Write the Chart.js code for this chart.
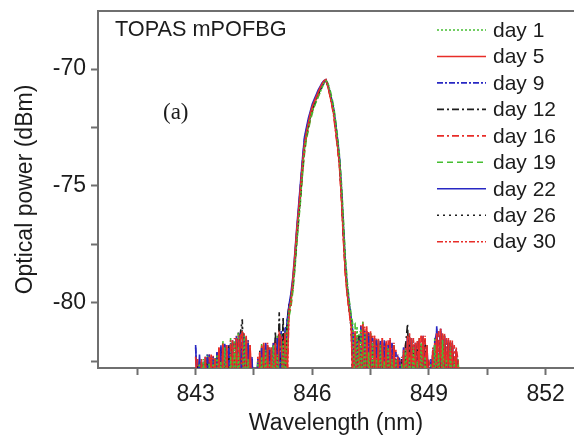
<!DOCTYPE html>
<html>
<head>
<meta charset="utf-8">
<title>TOPAS mPOFBG</title>
<script src="https://cdn.jsdelivr.net/npm/chart.js@4.4.0/dist/chart.umd.min.js"></script>
<style>
  html, body { margin: 0; padding: 0; background: #fff; }
  #spectrum { display: block; }
</style>
</head>
<body>
<canvas id="spectrum" width="574" height="442"></canvas>
<script>
// wavelength samples (nm), 0.05 nm apart, shared by all days
var wavelengths = [
  843.00, 843.05, 843.10, 843.15, 843.20, 843.25, 843.30, 843.35, 843.40, 843.45, 843.50, 843.55, 843.60, 843.65, 843.70, 843.75, 843.80, 843.85, 843.90, 843.95, 844.00, 844.05,
  844.10, 844.15, 844.20, 844.25, 844.30, 844.35, 844.40, 844.45, 844.50, 844.55, 844.60, 844.65, 844.70, 844.75, 844.80, 844.85, 844.90, 844.95, 845.00, 845.05, 845.10, 845.15,
  845.20, 845.25, 845.30, 845.35, 845.40, 845.45, 845.50, 845.55, 845.60, 845.65, 845.70, 845.75, 845.80, 845.85, 845.90, 845.95, 846.00, 846.05, 846.10, 846.15,
  846.20, 846.25, 846.30, 846.35, 846.40, 846.45, 846.50, 846.55, 846.60, 846.65, 846.70, 846.75, 846.80, 846.85, 846.90, 846.95, 847.00, 847.05, 847.10, 847.15, 847.20,
  847.25, 847.30, 847.35, 847.40, 847.45, 847.50, 847.55, 847.60, 847.65, 847.70, 847.75, 847.80, 847.85, 847.90, 847.95, 848.00, 848.05, 848.10, 848.15, 848.20, 848.25, 848.30, 848.35, 848.40, 848.45, 848.50,
  848.55, 848.60, 848.65, 848.70, 848.75, 848.80, 848.85, 848.90, 848.95, 849.00, 849.05, 849.10, 849.15, 849.20, 849.25, 849.30, 849.35, 849.40, 849.45, 849.50, 849.55, 849.60, 849.65, 849.70, 849.75, 849.80
];

// optical power (dBm) per measurement day: left noise, peak, right noise
var day1 = [
  -84.6, -84.2, -82.6, -84.0, -82.4, -83.8, -84.3, -82.6, -83.9, -82.5, -84.1, -82.2, -83.7, -82.5, -84.2, -81.9, -83.6, -84.4, -82.3, -83.9, -81.6, -84.0, -82.2, -83.8, -84.1, -81.4, -83.7, -82.4, -84.0, -84.3, -84.8, -84.6, -82.5, -84.0, -82.3, -83.9, -82.0, -84.2, -82.5, -83.8, -81.8, -84.1, -82.2, -83.9,
  -83.8, -81.6, -83.5, -81.2, -80.4, -80.0, -79.4, -78.5, -77.4, -76.4, -75.5, -74.3, -73.4, -72.9, -72.5, -72.1, -71.8, -71.6, -71.4, -71.2, -71.0, -70.8, -70.6, -70.5, -70.6, -70.9, -71.3, -71.7, -72.3, -73.0, -73.8, -75.0, -76.6, -78.2, -79.2, -80.0, -80.6, -81.2, -83.8, -81.0, -83.6,
  -81.1, -83.9, -81.3, -84.2, -82.1, -83.8, -81.7, -84.0, -82.4, -84.3, -81.8, -83.7, -82.5, -84.1, -81.9, -83.8, -82.4, -84.0, -82.4, -84.3, -84.6, -82.6, -84.0, -82.0, -83.8, -82.3, -84.1, -81.9, -83.9, -82.5, -84.2, -81.7, -83.8, -82.3, -84.0, -84.5, -82.6, -84.1, -81.8, -83.7, -82.2, -84.0, -81.6, -83.9, -82.4, -84.2, -82.0, -83.8, -82.5, -84.3, -82.6, -84.8
];
var day5 = [
  -82.3, -84.1, -84.5, -82.5, -83.9, -82.3, -84.2, -83.8, -82.2, -84.0, -82.4, -83.7, -81.9, -84.1, -81.8, -84.3, -81.9, -83.8, -84.0, -81.6, -84.2, -81.5, -83.9, -81.4, -81.3, -84.1, -81.4, -83.8, -81.8, -84.0, -84.6, -84.4, -84.1, -82.1, -84.0, -81.7, -83.8, -81.8, -84.3, -81.9, -83.9, -81.7, -84.2, -81.3,
  -81.5, -83.7, -81.3, -83.5, -80.3, -79.9, -79.0, -78.0, -76.9, -76.0, -75.0, -74.0, -73.2, -72.7, -72.3, -71.9, -71.6, -71.4, -71.2, -71.0, -70.8, -70.65, -70.5, -70.45, -70.75, -71.1, -71.5, -71.9, -72.6, -73.3, -74.1, -75.5, -77.2, -78.7, -79.6, -80.3, -81.0, -83.8, -81.2, -83.9, -81.6,
  -83.8, -80.9, -84.0, -81.1, -83.7, -81.3, -84.1, -81.4, -83.9, -81.6, -84.2, -81.5, -83.8, -81.7, -84.0, -81.6, -83.9, -81.8, -84.1, -82.3, -84.4, -84.2, -82.0, -83.9, -81.4, -84.1, -81.5, -83.8, -81.7, -84.0, -81.5, -83.7, -81.4, -84.1, -81.8, -84.6, -84.2, -82.0, -83.8, -81.3, -84.0, -81.1, -83.9, -81.4, -84.1, -81.6, -83.7, -81.7, -84.0, -82.0, -84.3, -84.9
];
var day9 = [
  -81.9, -83.8, -82.4, -84.2, -82.5, -84.0, -82.2, -83.9, -84.3, -82.3, -83.8, -82.1, -84.0, -81.8, -83.7, -81.7, -84.1, -81.8, -83.9, -81.6, -84.2, -81.4, -83.8, -81.3, -84.0, -81.5, -83.9, -81.6, -84.2, -82.3, -84.7, -84.5, -82.4, -83.9, -81.9, -84.1, -81.7, -83.8, -82.0, -84.0, -81.7, -83.9, -81.5, -84.1,
  -81.2, -84.0, -81.1, -80.9, -80.2, -79.7, -79.1, -78.2, -77.0, -76.0, -74.9, -73.9, -73.0, -72.6, -72.2, -71.9, -71.6, -71.4, -71.2, -71.0, -70.85, -70.7, -70.55, -70.5, -70.7, -71.0, -71.4, -71.8, -72.4, -73.1, -73.9, -75.2, -76.9, -78.4, -79.4, -80.1, -80.7, -81.3, -84.0, -81.5, -83.7,
  -81.0, -84.0, -81.2, -83.8, -81.3, -84.1, -81.5, -83.9, -81.6, -84.2, -81.6, -83.8, -81.6, -84.0, -81.8, -83.9, -81.7, -84.1, -82.1, -84.4, -82.5, -84.3, -81.9, -84.0, -81.5, -83.8, -81.6, -84.2, -81.8, -83.9, -81.6, -84.0, -81.5, -83.8, -81.9, -84.4, -82.4, -84.0, -81.6, -81.3, -83.9, -81.2, -84.1, -81.5, -83.8, -81.7, -84.0, -81.8, -83.9, -82.1, -84.6, -85.0
];
var day12 = [
  -84.4, -82.7, -84.1, -82.6, -83.9, -84.2, -82.4, -84.0, -82.3, -83.8, -84.1, -82.2, -83.9, -82.0, -84.2, -81.9, -83.8, -81.8, -84.0, -81.7, -83.7, -81.5, -84.1, -81.3, -80.7, -83.9, -81.6, -84.0, -82.0, -84.4, -84.9, -84.5, -84.0, -82.3, -83.8, -81.9, -84.1, -81.8, -83.9, -82.0, -84.2, -81.2, -83.8, -80.4,
  -83.6, -80.6, -83.8, -80.9, -80.1, -79.8, -79.2, -78.3, -77.2, -76.3, -75.3, -74.2, -73.3, -72.8, -72.4, -72.0, -71.7, -71.5, -71.3, -71.1, -70.9, -70.75, -70.6, -70.5, -70.7, -71.0, -71.4, -71.8, -72.5, -73.2, -74.0, -75.3, -77.0, -78.5, -79.5, -80.2, -80.8, -84.0, -81.3, -83.8, -81.4,
  -83.7, -81.0, -83.9, -81.3, -84.1, -81.4, -83.8, -81.6, -84.0, -81.7, -83.9, -81.8, -84.2, -81.7, -83.8, -81.9, -84.0, -81.9, -84.3, -82.4, -84.6, -82.5, -84.1, -81.8, -80.9, -83.9, -81.7, -84.0, -81.8, -83.8, -81.7, -84.1, -81.6, -83.9, -82.0, -84.5, -84.3, -82.1, -83.8, -81.5, -84.0, -81.4, -83.9, -81.6, -84.1, -81.7, -83.8, -81.9, -84.0, -82.2, -84.5, -84.9
];
var day16 = [
  -84.5, -82.4, -84.0, -82.5, -84.2, -82.4, -83.8, -82.3, -84.1, -82.2, -84.0, -83.9, -81.9, -84.2, -81.7, -83.9, -81.8, -84.1, -81.6, -83.8, -81.5, -84.0, -81.4, -83.7, -81.2, -84.1, -81.5, -83.9, -81.8, -84.3, -84.7, -84.4, -82.3, -84.1, -81.8, -83.9, -81.7, -84.0, -81.9, -83.8, -81.7, -84.2, -81.5, -83.8,
  -83.9, -81.4, -83.6, -81.0, -80.5, -80.1, -79.3, -78.4, -77.3, -76.3, -75.4, -74.4, -73.5, -72.9, -72.5, -72.1, -71.8, -71.5, -71.3, -71.1, -70.9, -70.7, -70.55, -70.5, -70.75, -71.1, -71.5, -72.0, -72.7, -73.4, -74.2, -75.6, -77.3, -78.8, -79.7, -80.4, -81.0, -81.3, -83.7, -81.6, -84.0,
  -80.9, -83.8, -81.0, -84.0, -81.2, -83.7, -81.4, -84.1, -81.5, -83.9, -81.6, -84.0, -81.7, -83.8, -81.6, -84.2, -81.7, -83.9, -82.0, -84.3, -82.4, -84.5, -84.1, -81.8, -83.9, -81.3, -84.0, -81.6, -83.8, -81.7, -84.1, -81.4, -83.9, -81.5, -84.0, -82.5, -84.4, -83.9, -81.6, -84.1, -81.2, -83.8, -81.3, -84.0, -81.5, -83.9, -81.6, -84.2, -81.8, -83.8, -82.4, -84.7
];
var day19 = [
  -84.3, -84.0, -82.5, -83.8, -82.6, -84.1, -82.2, -83.9, -82.5, -84.2, -82.3, -83.8, -82.4, -84.0, -81.6, -83.7, -82.3, -84.1, -81.5, -83.9, -82.2, -84.0, -81.3, -83.8, -82.1, -84.2, -81.4, -83.9, -82.2, -84.1, -84.6, -84.8, -82.6, -83.8, -81.7, -84.0, -82.4, -83.9, -81.9, -84.1, -82.3, -83.7, -81.4, -84.0,
  -81.3, -83.8, -81.4, -81.0, -80.6, -80.2, -79.5, -78.6, -77.5, -76.5, -75.6, -74.5, -73.6, -73.0, -72.6, -72.2, -71.9, -71.6, -71.4, -71.2, -71.0, -70.8, -70.6, -70.5, -70.6, -70.85, -71.2, -71.6, -72.2, -72.9, -73.7, -74.9, -76.4, -78.0, -79.1, -79.9, -80.5, -81.0, -80.9, -83.8, -81.3,
  -84.0, -80.8, -83.8, -81.8, -84.1, -81.3, -83.9, -82.1, -84.0, -81.6, -83.7, -82.2, -84.1, -81.8, -83.9, -82.3, -84.2, -81.8, -83.8, -82.5, -84.5, -84.3, -82.0, -84.0, -82.2, -83.9, -81.6, -84.1, -82.3, -83.8, -81.5, -84.0, -82.1, -83.9, -81.8, -84.7, -82.6, -84.0, -81.5, -83.8, -81.9, -84.1, -81.3, -83.9, -82.2, -84.0, -81.6, -83.8, -82.4, -84.2, -82.4, -84.8
];
var day22 = [
  -81.8, -84.1, -82.2, -83.9, -84.2, -82.3, -84.0, -82.2, -83.8, -82.4, -84.1, -82.1, -83.9, -81.9, -84.0, -81.8, -83.8, -81.9, -84.2, -81.7, -83.9, -81.5, -84.0, -81.4, -83.7, -81.4, -84.1, -81.7, -83.9, -82.4, -84.8, -84.3, -82.5, -84.0, -81.9, -83.8, -81.8, -84.1, -81.9, -83.9, -81.8, -84.0, -81.6, -81.4,
  -83.9, -81.5, -83.7, -80.8, -80.1, -79.6, -78.9, -77.9, -76.8, -75.8, -74.8, -73.8, -72.9, -72.5, -72.1, -71.8, -71.5, -71.3, -71.1, -70.9, -70.75, -70.6, -70.5, -70.45, -70.65, -70.95, -71.3, -71.7, -72.3, -73.0, -73.8, -75.1, -76.7, -78.3, -79.3, -80.0, -80.7, -81.4, -83.9, -84.1, -81.8,
  -83.9, -81.1, -84.0, -81.2, -83.8, -81.4, -84.1, -81.5, -83.9, -81.7, -84.0, -81.6, -83.8, -81.7, -84.2, -81.6, -83.9, -81.9, -84.0, -82.3, -82.4, -84.4, -81.9, -83.8, -81.4, -84.0, -81.5, -83.9, -81.7, -84.1, -81.6, -83.8, -81.4, -84.0, -81.8, -84.5, -84.2, -82.0, -83.9, -81.0, -83.8, -81.1, -84.0, -81.4, -83.9, -81.6, -84.1, -81.7, -83.8, -82.0, -84.4, -85.0
];
var day26 = [
  -84.2, -83.8, -82.6, -84.1, -82.7, -83.9, -82.3, -84.2, -82.6, -83.8, -82.3, -84.0, -82.5, -83.9, -81.8, -84.1, -82.4, -83.7, -81.7, -84.0, -82.1, -83.8, -81.2, -84.1, -81.0, -83.9, -82.2, -84.2, -81.9, -84.4, -84.7, -84.9, -84.2, -82.0, -83.9, -82.4, -84.0, -81.9, -83.8, -82.3, -84.1, -81.6, -83.9, -80.8,
  -84.0, -81.0, -83.8, -81.2, -80.3, -79.9, -79.3, -78.4, -77.3, -76.3, -75.3, -74.3, -73.4, -72.9, -72.5, -72.1, -71.8, -71.6, -71.3, -71.1, -70.9, -70.7, -70.55, -70.5, -70.7, -71.0, -71.4, -71.9, -72.5, -73.2, -74.1, -75.4, -77.1, -78.6, -79.5, -80.3, -81.1, -83.9, -81.5, -84.0, -81.3,
  -81.2, -84.1, -81.6, -83.8, -81.3, -84.0, -82.0, -83.9, -81.6, -84.1, -82.2, -83.8, -81.8, -84.0, -82.3, -83.9, -81.8, -84.2, -82.5, -84.4, -84.6, -82.4, -83.9, -82.2, -84.1, -81.4, -83.8, -82.1, -84.0, -81.7, -83.9, -82.2, -84.1, -81.6, -83.8, -84.6, -82.6, -84.1, -81.7, -83.9, -82.0, -84.0, -81.4, -83.8, -82.2, -84.1, -81.7, -83.9, -82.3, -84.0, -84.5, -84.9
];
var day30 = [
  -84.1, -82.5, -84.3, -82.4, -83.9, -82.5, -84.1, -82.2, -83.8, -82.3, -84.0, -82.1, -84.2, -81.9, -83.8, -81.8, -84.0, -81.8, -83.9, -81.6, -84.1, -81.4, -83.7, -81.3, -84.0, -81.3, -83.8, -81.6, -84.1, -82.4, -84.8, -84.6, -84.0, -82.2, -83.8, -81.8, -84.1, -81.7, -83.9, -81.9, -84.0, -81.6, -83.8, -81.3,
  -81.4, -83.9, -81.2, -84.0, -80.4, -80.0, -79.3, -78.4, -77.2, -76.2, -75.2, -74.2, -73.3, -72.8, -72.4, -72.0, -71.7, -71.5, -71.3, -71.1, -70.9, -70.7, -70.55, -70.45, -70.7, -71.05, -71.45, -71.85, -72.55, -73.25, -74.05, -75.4, -77.1, -78.6, -79.6, -80.3, -80.9, -81.4, -83.8, -81.4, -84.0,
  -83.8, -80.8, -84.0, -81.0, -83.9, -81.2, -84.1, -81.4, -83.8, -81.5, -84.0, -81.5, -83.9, -81.6, -84.1, -81.5, -83.8, -81.7, -84.0, -82.2, -84.3, -82.3, -84.0, -81.7, -83.9, -81.3, -84.1, -81.5, -83.8, -81.6, -84.0, -81.4, -83.9, -81.4, -84.1, -82.4, -84.5, -81.9, -84.0, -81.2, -83.8, -81.1, -84.0, -81.3, -83.9, -81.5, -84.1, -81.6, -83.8, -81.9, -82.5, -84.8
];

var dayLabels = ['day 1', 'day 5', 'day 9', 'day 12', 'day 16', 'day 19', 'day 22', 'day 26', 'day 30'];
var dayValues = [day1, day5, day9, day12, day16, day19, day22, day26, day30];

var xTickValues = [841.5, 843, 844.5, 846, 847.5, 849, 850.5, 852];
var xTickLabels = ['', '843', '', '846', '', '849', '', '852'];
var yTickValues = [-82.5, -80, -77.5, -75, -72.5, -70];
var yTickLabels = ['', '-80', '', '-75', '', '-70'];

// line styles, same order as the days
var GREEN = 'rgb(70,190,50)', RED = 'rgb(232,45,40)', BLUE = 'rgb(40,40,195)', BLACK = 'rgb(30,30,30)';
var lineStyles = [
  { color: GREEN, dash: [2, 2] },
  { color: RED,   dash: [] },
  { color: BLUE,  dash: [6, 2, 2, 2] },
  { color: BLACK, dash: [7, 3, 2, 3] },
  { color: RED,   dash: [7, 3, 2, 3] },
  { color: GREEN, dash: [6, 4] },
  { color: BLUE,  dash: [] },
  { color: BLACK, dash: [2, 4] },
  { color: RED,   dash: [6, 2, 2, 2, 2, 2] }
];

var SANS = "'Liberation Sans', Arial, sans-serif";
var TEXT = '#1c1c1c';
var AXIS = '#6f6f6f';

var datasets = dayLabels.map(function(label, i){
  return {
    label: label,
    data: wavelengths.map(function(w, j){ return { x: w, y: dayValues[i][j] }; }),
    borderColor: lineStyles[i].color,
    borderDash: lineStyles[i].dash,
    borderWidth: 1.6,
    pointRadius: 0,
    tension: 0,
    fill: false
  };
});

// legend, sample name and "(a)" drawn inside the frame
var framePlugin = {
  id: 'frame',
  afterDraw: function(chart){
    var ctx = chart.ctx;
    var area = chart.chartArea;
    ctx.save();
    // top border runs out to the right edge
    ctx.strokeStyle = AXIS;
    ctx.lineWidth = 2;
    ctx.beginPath();
    ctx.moveTo(area.left - 1, area.top);
    ctx.lineTo(chart.width, area.top);
    ctx.stroke();

    ctx.fillStyle = TEXT;
    ctx.textBaseline = 'alphabetic';
    ctx.font = '21.7px ' + SANS;
    ctx.fillText('TOPAS mPOFBG', 115, 36);
    ctx.font = "23px 'Liberation Serif', 'Times New Roman', serif";
    ctx.fillText('(a)', 163, 119);

    ctx.font = '21px ' + SANS;
    ctx.textBaseline = 'middle';
    chart.data.datasets.forEach(function(ds, i){
      var y = 30 + i * 26.46;
      ctx.strokeStyle = ds.borderColor;
      ctx.lineWidth = 1.6;
      ctx.setLineDash(ds.borderDash);
      ctx.beginPath();
      ctx.moveTo(437, y);
      ctx.lineTo(486, y);
      ctx.stroke();
      ctx.setLineDash([]);
      ctx.fillStyle = TEXT;
      ctx.fillText(ds.label, 493, y + 1);
    });
    ctx.restore();
  }
};

var ctx = document.getElementById('spectrum');
var spectrumChart = new Chart(ctx, {
  type: 'line',
  data: { datasets: datasets },
  plugins: [framePlugin],
  options: {
    responsive: false,
    animation: false,
    devicePixelRatio: 1,
    layout: { padding: { top: 11, right: 0, left: 0, bottom: 0 } },
    plugins: { legend: { display: false }, tooltip: { enabled: false } },
    scales: {
      x: {
        type: 'linear',
        min: 840.49,
        max: 852.73,
        afterBuildTicks: function(scale){
          scale.ticks = xTickValues.map(function(v){ return { value: v }; });
        },
        afterFit: function(scale){
          scale.height = 74;
          scale.paddingLeft = 0;
          scale.paddingRight = 0;
        },
        ticks: {
          autoSkip: false,
          maxRotation: 0,
          padding: 6,
          color: TEXT,
          font: { family: SANS, size: 23 },
          callback: function(value){ return xTickLabels[xTickValues.indexOf(value)]; }
        },
        grid: { drawOnChartArea: false, drawTicks: true, tickLength: 7, tickColor: AXIS, tickWidth: 2 },
        border: { display: true, color: AXIS, width: 2 },
        title: {
          display: true,
          text: 'Wavelength (nm)',
          color: TEXT,
          font: { family: SANS, size: 23 },
          padding: { top: 0, bottom: 5 }
        }
      },
      y: {
        type: 'linear',
        min: -82.78,
        max: -67.52,
        afterBuildTicks: function(scale){
          scale.ticks = yTickValues.map(function(v){ return { value: v }; });
        },
        afterFit: function(scale){
          scale.width = 98;
          scale.paddingTop = 0;
          scale.paddingBottom = 0;
        },
        ticks: {
          autoSkip: false,
          padding: 5,
          color: TEXT,
          font: { family: SANS, size: 23 },
          callback: function(value){ return yTickLabels[yTickValues.indexOf(value)]; }
        },
        grid: { drawOnChartArea: false, drawTicks: true, tickLength: 7, tickColor: AXIS, tickWidth: 2 },
        border: { display: true, color: AXIS, width: 2 },
        title: {
          display: true,
          text: 'Optical power (dBm)',
          color: TEXT,
          font: { family: SANS, size: 23 },
          padding: { top: 12, bottom: 0 }
        }
      }
    }
  }
});
</script>
</body>
</html>
